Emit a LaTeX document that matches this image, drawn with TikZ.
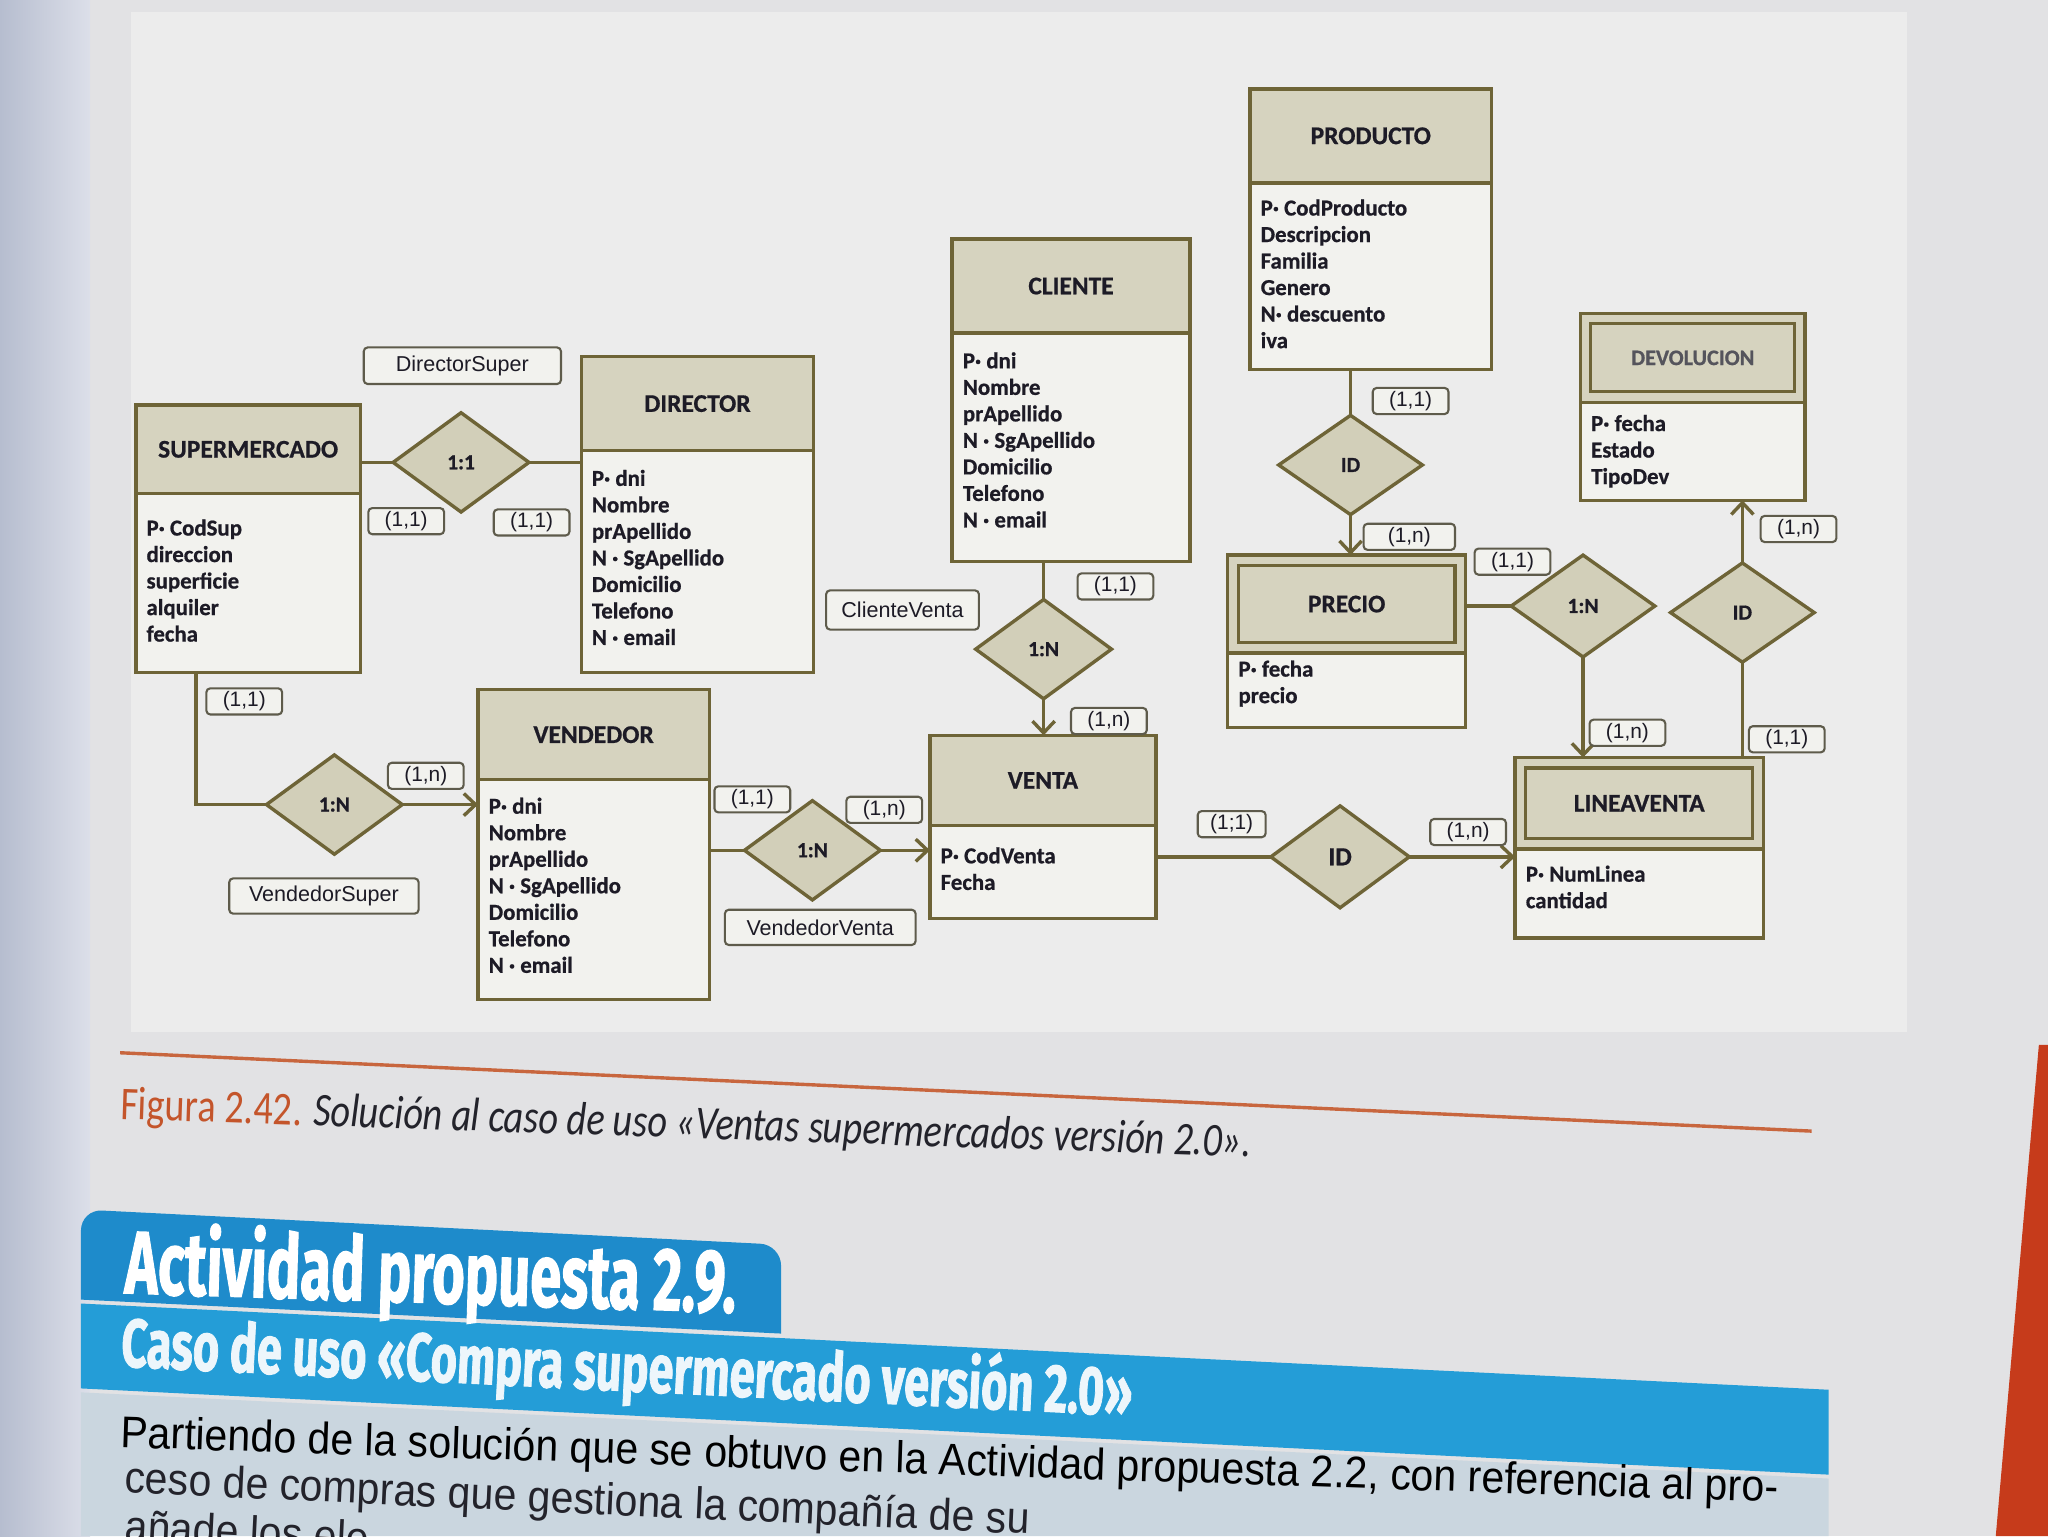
\documentclass[tikz,border=0pt]{standalone}
\usepackage{fontspec}
\setmainfont{Carlito}[BoldFeatures={FakeBold=0.7}]
\newfontfamily\lblfont{Liberation Sans}
\newfontfamily\bannerfont[BoldFeatures={FakeBold=1.6}]{Fira Sans}
\usetikzlibrary{shapes.geometric,arrows.meta}

\definecolor{erline}{HTML}{6E6437}
\definecolor{erhead}{HTML}{D6D3BF}
\definecolor{erdiam}{HTML}{D2CFB9}
\definecolor{erbody}{HTML}{F2F2EE}
\definecolor{ertext}{HTML}{1D1B26}
\definecolor{cardline}{HTML}{5E5B4B}
\definecolor{pagebg}{HTML}{E2E2E4}
\definecolor{panelbg}{HTML}{ECECEC}
\definecolor{leftA}{HTML}{B6BDCF}
\definecolor{leftB}{HTML}{DCDFE9}
\definecolor{tabblue}{HTML}{1E8BCB}
\definecolor{bandblue}{HTML}{249DD7}
\definecolor{parapanel}{HTML}{CAD6DF}
\definecolor{pagered}{HTML}{C63B1B}
\definecolor{capline}{HTML}{C8663E}
\definecolor{capred}{HTML}{C4552B}
\definecolor{bodytext}{HTML}{23232B}

\newsavebox\paraline
\newlength\paralinewd

% entity: name, x1, y1, x2, y2, header bottom, title, first baseline, attributes
\newcommand\erent[9]{%
  \node[entbox, minimum width={#4-#2}, minimum height={#5-#3}] (#1) at ({(#2+#4)/2},{(#3+#5)/2}) {};
  \node[enthead, minimum width={#4-#2}, minimum height={#6-#3}] (#1-h) at ({(#2+#4)/2},{(#3+#6)/2}) {#7};
  \foreach \atxt [count=\ai from 0] in {#9}{%
    \node[attr] (#1-a\ai) at ({#2+8},{#8+\ai*20.3}) {\atxt};}%
}
% second frame inside the header of a weak entity
\newcommand\erweak[1]{%
  \draw[erframe] ([shift={(8pt,-8pt)}]#1-h.north west) rectangle ([shift={(-8pt,8pt)}]#1-h.south east);}

\begin{document}
\sbox\paraline{\lblfont\fontsize{34}{38}\selectfont Partiendo de la solución que se obtuvo en la Actividad propuesta 2.2, con referencia al pro-}%
\setlength\paralinewd{\wd\paraline}%
\pgfmathsetmacro\parasx{1270/\paralinewd}%
\begin{tikzpicture}[x=1pt,y=-1pt,
  entbox/.style={draw=erline, line width=2.6pt, fill=erbody, inner sep=0pt, outer sep=0pt},
  enthead/.style={draw=erline, line width=2.6pt, fill=erhead, inner sep=0pt, outer sep=0pt,
    text=ertext, font=\fontsize{19.5}{21}\selectfont\bfseries},
  erframe/.style={draw=erline, line width=2.4pt},
  attr/.style={inner sep=0pt, anchor=base west, text=ertext, font=\fontsize{17.5}{20}\selectfont\bfseries},
  rel/.style={diamond, draw=erline, line width=2.6pt, fill=erdiam, inner sep=0pt, outer sep=0pt,
    minimum width=104pt, minimum height=76pt, text=ertext, font=\fontsize{16.5}{19}\selectfont\bfseries},
  card/.style={draw=cardline, line width=1.6pt, rounded corners=3pt, fill=erbody, inner sep=0pt,
    minimum width=58pt, minimum height=20pt, text=ertext, font=\lblfont\fontsize{16}{18}\selectfont},
  rname/.style={card, minimum height=28pt, font=\lblfont\fontsize{16.5}{19}\selectfont},
  conn/.style={draw=erline, line width=2.6pt},
  arr/.style={conn, -{Straight Barb[length=9pt,width=17pt]}},
]
\useasboundingbox (0,0) rectangle (1568,1176);
\clip (0,0) rectangle (1568,1176);

% page
\fill[pagebg] (0,0) rectangle (1568,1176);
\shade[left color=leftA, right color=leftB] (0,0) rectangle (69,1176);
\fill[panelbg] (100,9) rectangle (1460,790);

% entities
\erent{sup}{104}{310}{276}{515}{378}{SUPERMERCADO}{410}{P· CodSup,direccion,superficie,alquiler,fecha}
\erent{dir}{445}{273}{623}{515}{345}{DIRECTOR}{372}{P· dni,Nombre,prApellido,N · SgApellido,Domicilio,Telefono,N · email}
\erent{cli}{729}{183}{911}{430}{255}{CLIENTE}{282}{P· dni,Nombre,prApellido,N · SgApellido,Domicilio,Telefono,N · email}
\erent{prod}{957}{68}{1142}{283}{140}{PRODUCTO}{165}{P· CodProducto,Descripcion,Familia,Genero,N· descuento,iva}
\erent{prec}{940}{425}{1122}{557}{500}{PRECIO}{518}{P· fecha,precio}
\erent{dev}{1210}{240}{1382}{383}{308}{\fontsize{17}{19}\selectfont\color{ertext!75}DEVOLUCION}{330}{P· fecha,Estado,TipoDev}
\erent{lin}{1160}{580}{1350}{718}{650}{LINEAVENTA}{675}{P· NumLinea,cantidad}
\erent{venta}{712}{563}{885}{703}{632}{VENTA}{661}{P· CodVenta,Fecha}
\erent{vend}{366}{528}{543}{765}{597}{VENDEDOR}{623}{P· dni,Nombre,prApellido,N · SgApellido,Domicilio,Telefono,N · email}
\erweak{prec}
\erweak{dev}
\erweak{lin}

% relationships
\node[rel] (r11)  at (353,354) {1:1};
\node[rel] (rvs)  at (256,616) {1:N};
\node[rel] (rvv)  at (622,651) {1:N};
\node[rel] (rcv)  at (799,497) {1:N};
\node[rel, minimum width=110pt] (rid1) at (1034,356) {ID};
\node[rel, minimum width=110pt, minimum height=78pt] (r1n) at (1212,464) {1:N};
\node[rel, minimum width=110pt] (rid2) at (1334,469) {ID};
\node[rel, minimum width=106pt, minimum height=78pt, font=\fontsize{20}{22}\selectfont\bfseries] (rid3) at (1026,656) {ID};

% connectors
\draw[conn] (r11.west -| sup.east) -- (r11.west);
\draw[conn] (r11.east) -- (r11.east -| dir.west);
\draw[conn] ([xshift=-40pt]sup.south) |- (rvs.west);
\draw[arr]  (rvs.east) -- (rvs.east -| vend.west);
\draw[conn] (rvv.west -| vend.east) -- (rvv.west);
\draw[arr]  (rvv.east) -- (rvv.east -| venta.west);
\draw[conn] (rcv.north |- cli.south) -- (rcv.north);
\draw[arr]  (rcv.south) -- (rcv.south |- venta.north);
\draw[conn] (rid3.west -| venta.east) -- (rid3.west);
\draw[arr]  (rid3.east) -- (rid3.east -| lin.west);
\draw[conn] (rid1.north |- prod.south) -- (rid1.north);
\draw[arr]  (rid1.south) -- (rid1.south |- prec.north);
\draw[conn] (r1n.west -| prec.east) -- (r1n.west);
\draw[arr]  (r1n.south) -- (r1n.south |- lin.north);
\draw[conn] (rid2.south |- lin.north) -- (rid2.south);
\draw[arr]  (rid2.north) -- (rid2.north |- dev.south);

% relationship names
\node[rname, minimum width=151pt] (nds) at (354,280) {DirectorSuper};
\node[rname, minimum width=145pt, minimum height=27pt] (nvs) at (248,686) {VendedorSuper};
\node[rname, minimum width=146pt, minimum height=27pt] (nvv) at (628,710) {VendedorVenta};
\node[rname, minimum width=117pt, minimum height=30pt] (ncv) at (691,467) {ClienteVenta};

% cardinalities
\node[card] (k1)  at (311,399)  {(1,1)};
\node[card] (k2)  at (407,400)  {(1,1)};
\node[card] (k3)  at (187,537)  {(1,1)};
\node[card] (k4)  at (326,594)  {(1,n)};
\node[card] (k5)  at (576,612)  {(1,1)};
\node[card] (k6)  at (677,620)  {(1,n)};
\node[card] (k7)  at (854,449)  {(1,1)};
\node[card] (k8)  at (849,552)  {(1,n)};
\node[card, minimum width=52pt] (k9)  at (943,631)  {(1;1)};
\node[card] (k10) at (1124,637) {(1,n)};
\node[card] (k11) at (1080,307) {(1,1)};
\node[card, minimum width=70pt] (k12) at (1079,411) {(1,n)};
\node[card] (k13) at (1158,430) {(1,1)};
\node[card] (k14) at (1246,561) {(1,n)};
\node[card] (k15) at (1377,405) {(1,n)};
\node[card] (k16) at (1368,566) {(1,1)};

% caption
\draw[capline, line width=2.6pt] (92,806) -- (1387,866);
\node[anchor=base west, inner sep=0pt, rotate=-1.9, text=bodytext] (cap) at (92,857)
  {\resizebox{866pt}{\height}{\fontsize{36}{38}\selectfont{\color{capred}Figura 2.42.} \itshape Solución al caso de uso «Ventas supermercados versión 2.0».}};

% activity banner
\fill[tabblue] (62,995) [rounded corners=16pt] -- (62,926) -- (598,953) [sharp corners] -- (598,1021) -- cycle;
\fill[bandblue] (62,998) -- (1400,1064) -- (1400,1129) -- (62,1063) -- cycle;
\fill[parapanel] (62,1066) -- (1400,1132) -- (1400,1176) -- (62,1176) -- cycle;
\fill[pagered] (1561,800) -- (1568,800) -- (1568,1176) -- (1528,1176) -- cycle;

\node[anchor=base west, inner sep=0pt, rotate=-1.8, text=white] (act) at (95,990)
  {\resizebox{468pt}{\height}{\bannerfont\bfseries\fontsize{68}{70}\selectfont Actividad propuesta 2.9.}};
\node[anchor=base west, inner sep=0pt, rotate=-2.8, text=white!92!tabblue] (caso) at (92,1046)
  {\resizebox{775pt}{\height}{\bannerfont\bfseries\fontsize{52}{56}\selectfont Caso de uso «Compra supermercado versión 2.0»}};

% paragraph
\node[anchor=base west, inner sep=0pt, rotate=-1.9, text=bodytext] (p1) at (92,1108)
  {\scalebox{\parasx}[1]{\usebox\paraline}};
\node[anchor=base west, inner sep=0pt, rotate=-2.6, text=bodytext] (p2) at (95,1143)
  {\scalebox{\parasx}[1]{\lblfont\fontsize{34}{38}\selectfont ceso de compras que gestiona la compañía de su}};
\node[anchor=base west, inner sep=0pt, rotate=-2.8, text=bodytext] (p3) at (95,1180)
  {\scalebox{\parasx}[1]{\lblfont\fontsize{34}{38}\selectfont añade los ele}};
\end{tikzpicture}
\end{document}
